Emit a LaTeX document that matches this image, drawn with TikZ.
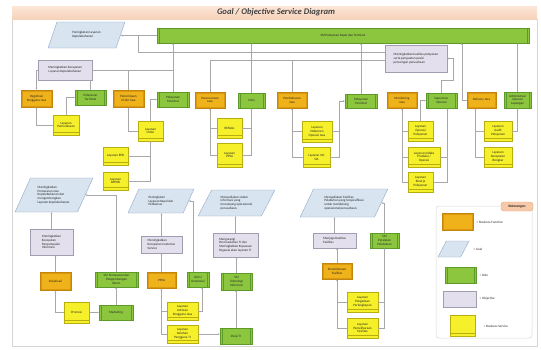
\documentclass[tikz,border=0pt]{standalone}
\usepackage{fontspec}
\setmainfont{Carlito}
\usetikzlibrary{shapes.geometric,arrows.meta}

\definecolor{fnfill}{HTML}{F0B21A}
\definecolor{fndraw}{HTML}{C4850C}
\definecolor{fnin}{HTML}{D99A10}
\definecolor{rolefill}{HTML}{8CC63F}
\definecolor{roledraw}{HTML}{5E9A2A}
\definecolor{svcfill}{HTML}{F5F02A}
\definecolor{svcdraw}{HTML}{B8AE10}
\definecolor{objfill}{HTML}{E3DFEC}
\definecolor{objdraw}{HTML}{A19DB0}
\definecolor{goalfill}{HTML}{D8E4F0}
\definecolor{goaldraw}{HTML}{90A8C6}
\definecolor{linec}{HTML}{A8A8A8}
\definecolor{framec}{HTML}{D6D6D6}
\definecolor{titletop}{HTML}{FCE6D8}
\definecolor{titlebot}{HTML}{F7D2BA}
\definecolor{titletext}{HTML}{404040}
\definecolor{pillfill}{HTML}{F8C9A8}
\definecolor{pilldraw}{HTML}{E2A27A}

% box from corner (x1,y1) to corner (x2,y2), in pixel-like units
\newcommand\putbox[7]{%
  \node[#2, minimum width={#5pt-#3pt}, minimum height={#6pt-#4pt}] (#1)
    at ({(#3+#5)/2},{(#4+#6)/2}) {#7};}

\tikzset{
  base/.style={font=\fontsize{3.3}{3.8}\selectfont, inner sep=0.5pt, align=center, text=black!85},
  fn/.style={base, rectangle, fill=fnfill, draw=fndraw, line width=0.5pt,
    path picture={\draw[fnin, line width=0.3pt]
      ([shift={(1pt,-1pt)}]path picture bounding box.north west) rectangle
      ([shift={(-1pt,1pt)}]path picture bounding box.south east);}},
  role/.style={base, rectangle, fill=rolefill, draw=roledraw, line width=0.4pt,
    path picture={
      \draw[roledraw, line width=0.3pt] ([xshift=1.8pt]path picture bounding box.north west) -- ([xshift=1.8pt]path picture bounding box.south west);
      \draw[roledraw, line width=0.3pt] ([xshift=-1.8pt]path picture bounding box.north east) -- ([xshift=-1.8pt]path picture bounding box.south east);}},
  svc/.style={base, rectangle, fill=svcfill, draw=svcdraw, line width=0.4pt,
    path picture={
      \draw[svcdraw, line width=0.3pt] ([yshift=2.5pt]path picture bounding box.south west) -- ([yshift=2.5pt]path picture bounding box.south east);}},
  obj/.style={base, rectangle, fill=objfill, draw=objdraw, line width=0.4pt},
  objl/.style={obj, align=left},
  goal/.style={base, trapezium, trapezium left angle=60, trapezium right angle=120,
    trapezium stretches=true, fill=goalfill, draw=goaldraw, line width=0.4pt, align=left},
  conn/.style={draw=linec, line width=0.45pt},
  arr/.style={conn, -{Stealth[length=2pt,width=1.8pt]}},
  lab/.style={base, anchor=west},
}

\begin{document}
\begin{tikzpicture}[x=1pt,y=-1pt]
\useasboundingbox (0,0) rectangle (541,349);

% frame and title bar
\draw[framec, line width=0.5pt] (12,19) rectangle (537,346);
\shade[top color=titletop, bottom color=titlebot] (12,6) rectangle (537,19);
\node[text=titletext, font=\fontsize{8.6}{10}\selectfont\bfseries\itshape] (title) at (276,12.5)
  {Goal / Objective Service Diagram};

% ---------- upper part ----------
\putbox{goalA}{goal}{48}{22}{125}{48}{Peningkatan Layanan\\Kepelabuhanan}
\putbox{smA}{role}{157}{28}{529}{43}{SM Pelayanan Kapal dan Terminal}
\putbox{objKec}{obj}{38}{60}{92}{80}{Meningkatkan Kecepatan\\Layanan Kepelabuhanan}
\putbox{objKual}{objl}{385}{45}{447}{72}{Meningkatkan kualitas pelayanan\\serta penguatan posisi\\persaingan perusahaan}

\putbox{fReg}{fn}{21}{90}{52}{107}{Registrasi\\Pengguna Jasa}
\putbox{rPelT1}{role}{75}{90}{106}{105}{Pelayanan\\Terminal}
\putbox{fPen}{fn}{113}{90}{144}{107}{Penerimaan\\Order Jasa}
\putbox{rPelT2}{role}{157}{92}{189}{107}{Pelayanan\\Terminal}
\putbox{fRen}{fn}{195}{92}{225}{108}{Perencanaan\\Jasa}
\putbox{rInfra}{role}{238}{93}{265}{108}{Infra}
\putbox{fPemb}{fn}{277}{92}{307}{108}{Pembebasan\\Jasa}
\putbox{rPelT3}{role}{345}{94}{377}{108}{Pelayanan\\Terminal}
\putbox{fMon}{fn}{387}{92}{417}{108}{Monitoring\\Jasa}
\putbox{rSup}{role}{426}{93}{457}{108}{Supervisor\\Operasi}
\putbox{fDel}{fn}{467}{92}{496}{108}{Delivery Jasa}
\putbox{rAdm}{role}{504}{92}{531}{108}{Administrasi\\Operasi\\Lapangan}

\putbox{sPem}{svc}{53}{115}{79}{135}{Layanan\\Pemeriksaan}
\putbox{sOrd}{svc}{138}{121}{163}{141}{Layanan\\Order}
\putbox{sEPB}{svc}{103}{147}{128}{165}{Layanan EPB}
\putbox{sBPP}{svc}{103}{172}{128}{190}{Layanan\\BPPKB}
\putbox{sRen}{svc}{217}{118}{242}{138}{RENJAL}
\putbox{sPPSA}{svc}{217}{143}{242}{167}{Layanan\\PPSA}
\putbox{sDok}{svc}{302}{121}{332}{142}{Layanan\\Dokumen\\Operasi Jasa}
\putbox{sSIA}{svc}{303}{147}{330}{167}{Layanan Inti\\SIA}
\putbox{sOpP}{svc}{408}{121}{433}{141}{Layanan\\Operasi\\Pelayanan}
\putbox{sInd}{svc}{408}{147}{440}{167}{Layanan Indeks\\Produksi /\\Operasi}
\putbox{sKin}{svc}{408}{172}{433}{192}{Layanan\\Kinerja\\Pelayanan}
\putbox{sAud}{svc}{484}{121}{512}{141}{Layanan\\Audit\\Pelayanan}
\putbox{sKcp}{svc}{484}{147}{512}{167}{Layanan\\Kecepatan\\Bongkar}

% ---------- lower part ----------
\putbox{goalB}{goal}{15}{178}{93}{212}{Meningkatkan\\Pemasaran Jasa\\Kepelabuhanan dan\\mengembangkan\\layanan kepelabuhanan.}
\putbox{objPI}{objl}{30}{229}{73}{255}{Meningkatkan\\Kecepatan\\Penyampaian\\Informasi}
\putbox{fSos}{fn}{40}{272}{71}{290}{Sosialisasi}
\putbox{sProm}{svc}{64}{302}{89}{323}{Promosi}
\putbox{rMkt}{role}{99}{305}{133}{320}{Marketing}
\putbox{rSMP}{role}{95}{272}{138}{287}{SM Pemasaran dan\\Pengembangan\\Bisnis}

\putbox{goalC}{goal}{128}{189}{194}{213}{Peningkatan\\Layanan Kapal dan\\Petikemas}
\putbox{objCS}{objl}{141}{236}{182}{253}{Meningkatkan\\Kecepatan Customer\\Service}
\putbox{fPPSA}{fn}{147}{272}{176}{288}{PPSA}
\putbox{rDivK}{role}{187}{272}{209}{287}{Divisi\\Komersial}
\putbox{sAnt}{svc}{167}{302}{198}{320}{Layanan\\Antrean\\Pengguna Jasa}
\putbox{sKel}{svc}{167}{325}{198}{343}{Layanan\\Keluhan\\Pengguna TI}

\putbox{goalD}{goal}{198}{190}{275}{216}{Menyediakan sistem\\informasi yang\\menunjang operasional\\perusahaan.}
\putbox{objTI}{objl}{213}{233}{258}{257}{Mengurangi\\Permasalahan TI dan\\Meningkatkan Kepuasan\\Pegawai akan layanan TI}
\putbox{rSMTI}{role}{221}{273}{252}{290}{SM\\Teknologi\\Informasi}
\putbox{rDivTI}{role}{220}{328}{252}{344}{Divisi TI}

\putbox{goalE}{goal}{300}{189}{388}{217}{Menyediakan Fasilitas\\Pelabuhan yang terspesifikasi\\untuk mendukung\\operasional perusahaan.}
\putbox{objFas}{objl}{313}{233}{356}{248}{Menjaga Kualitas\\Fasilitas}
\putbox{rSMPP}{role}{370}{233}{399}{248}{SM\\Peralatan\\Pelabuhan}
\putbox{fPmF}{fn}{322}{263}{352}{279}{Pemeliharaan\\Fasilitas}
\putbox{sPgd}{svc}{347}{292}{378}{312}{Layanan\\Pengadaan\\Perlengkapan}
\putbox{sPmF}{svc}{347}{318}{378}{338}{Layanan\\Pemeliharaan\\Fasilitas}

% ---------- legend ----------
\draw[framec, line width=0.5pt, rounded corners=3pt] (436,206) rectangle (532,338);
\node[base, font=\fontsize{3.6}{4}\selectfont\bfseries, fill=pillfill, draw=pilldraw,
  rounded corners=3pt, minimum width=32pt, minimum height=9pt] (legHead) at (517,206.5) {Keterangan};
\putbox{legF}{fn}{442}{213}{473}{230}{}
\putbox{legG}{goal}{438}{241}{469}{257}{}
\putbox{legR}{role}{445}{267}{476}{283}{}
\putbox{legO}{obj}{443}{291}{476}{307}{}
\putbox{legS}{svc}{450}{315}{475}{336}{}
\node[lab] (legFt) at (476,222) {= Business Function};
\node[lab] (legGt) at (473,249) {= Goal};
\node[lab] (legRt) at (479,275) {= Role};
\node[lab] (legOt) at (479,299) {= Objective};
\node[lab] (legSt) at (483,326) {= Business Service};

% ---------- connectors: upper part ----------
\coordinate (jA) at (138,35.5);
\coordinate (busB) at (0,60);
\draw[arr] (smA.west) -- (smA.west -| goalA.east);
\draw[conn] ([yshift=6.5pt]objKual.west) -| (jA);
\draw[conn] (fRen.north) |- (busB -| objKual.west);
\draw[conn] (fPemb.north) -- (fPemb.north |- busB);

\draw[arr] (rPelT2.north) -- (rPelT2.north |- smA.south);
\draw[arr] (rInfra.north) -- (rInfra.north |- smA.south);
\draw[arr] (rPelT3.north) -- (rPelT3.north |- smA.south);
\draw[arr] (rAdm.north) -- (rAdm.north |- smA.south);
\draw[arr] (fDel.west) -- ++(-5,0) coordinate (dW) -- (dW |- smA.south);
\draw[arr] (rSup.north) -- ++(0,-13) -| ([xshift=6pt]objKual.east) -- (objKual.east);

\draw[arr] (objKec.west) -| (fReg.north);
\draw[conn] (rPelT1.north) -- (rPelT1.north |- objKec.south);
\draw[conn] (objKec.east) -- (objKec.east -| rPelT2.north);
\draw[conn] (fPen.north) -- (fPen.north |- objKec.east);

\draw[arr] (sPem.west) -| (fReg.south);
\draw[arr] (sPem.north) |- (rPelT1.west);
\draw[arr] (sOrd.west) -| (fPen.south);
\draw[arr] (sOrd.north) |- (rPelT2.west);
\draw[arr] (sEPB.east) -| (sOrd.south);
\draw[conn] (sBPP.east) -| (sOrd.south);

\draw[arr] (sPPSA.west) -| (fRen.south);
\draw[conn] (sRen.west) -- (sRen.west -| fRen.south);
\draw[arr] (sPPSA.east) -| (rInfra.south);
\draw[conn] (sRen.east) -- (sRen.east -| rInfra.south);

\draw[arr] (sSIA.west) -| (fPemb.south);
\draw[conn] (sDok.west) -- (sDok.west -| fPemb.south);
\draw[arr] (sSIA.east) -- ++(9,0) coordinate (kP) -- (kP |- rPelT3.west) -- (rPelT3.west);
\draw[conn] (sDok.east) -- (sDok.east -| kP);

\coordinate (supS) at ([xshift=6pt]rSup.south);
\draw[arr] (sKin.west) -| (fMon.south);
\draw[conn] (sOpP.west) -- (sOpP.west -| fMon.south);
\draw[conn] (sInd.west) -- (sInd.west -| fMon.south);
\draw[arr] (sKin.east) -| (supS);
\draw[conn] (sInd.east) -- (sInd.east -| supS);
\draw[arr] (sOpP.north) |- (rSup.west);

\coordinate (delS) at ([xshift=-6pt]fDel.south);
\draw[arr] (sKcp.west) -| (delS);
\draw[conn] (sAud.west) -- (sAud.west -| delS);
\draw[arr] (sAud.east) -| (rAdm.south);

% ---------- connectors: lower part ----------
\draw[arr] (rSMP.north) |- (goalB.east);
\draw[arr] (objPI.north) -- (objPI.north |- goalB.south);
\draw[arr] (fSos.north) -- (fSos.north |- objPI.south);
\draw[arr] (sProm.west) -| (fSos.south);
\draw[arr] (sProm.east) -- (sProm.east -| rMkt.west);
\draw[arr] (rMkt.north) -- (rMkt.north |- rSMP.south);

\coordinate (dkN) at ([xshift=-5pt]rDivK.north);
\coordinate (dkS) at ([xshift=4pt]rDivK.south);
\draw[arr] (objCS.north) -- (objCS.north |- goalC.south);
\draw[arr] (dkN) |- (goalC.east);
\draw[arr] (fPPSA.north) -- (fPPSA.north |- objCS.south);
\draw[arr] (sKel.west) -| (fPPSA.south);
\draw[conn] (sAnt.west) -- (sAnt.west -| fPPSA.south);
\draw[arr] (sAnt.east) -| (dkS);
\draw[arr] (sKel.east) -- (sKel.east -| rDivTI.west);

\draw[arr] (rDivTI.north) -- (rDivTI.north |- rSMTI.south);
\draw[arr] (rSMTI.north) -- (rSMTI.north |- objTI.south);
\draw[arr] (objTI.north) -- (objTI.north |- goalD.south);

\draw[arr] (objFas.north) -- (objFas.north |- goalE.south);
\draw[arr] (rSMPP.north) |- (goalE.east);
\draw[arr] (fPmF.north) -- (fPmF.north |- objFas.south);
\draw[arr] (sPmF.west) -| (fPmF.south);
\draw[conn] (sPgd.west) -- (sPgd.west -| fPmF.south);
\draw[arr] (sPmF.east) -| (rSMPP.south);
\draw[conn] (sPgd.east) -- (sPgd.east -| rSMPP.south);
\end{tikzpicture}
\end{document}
